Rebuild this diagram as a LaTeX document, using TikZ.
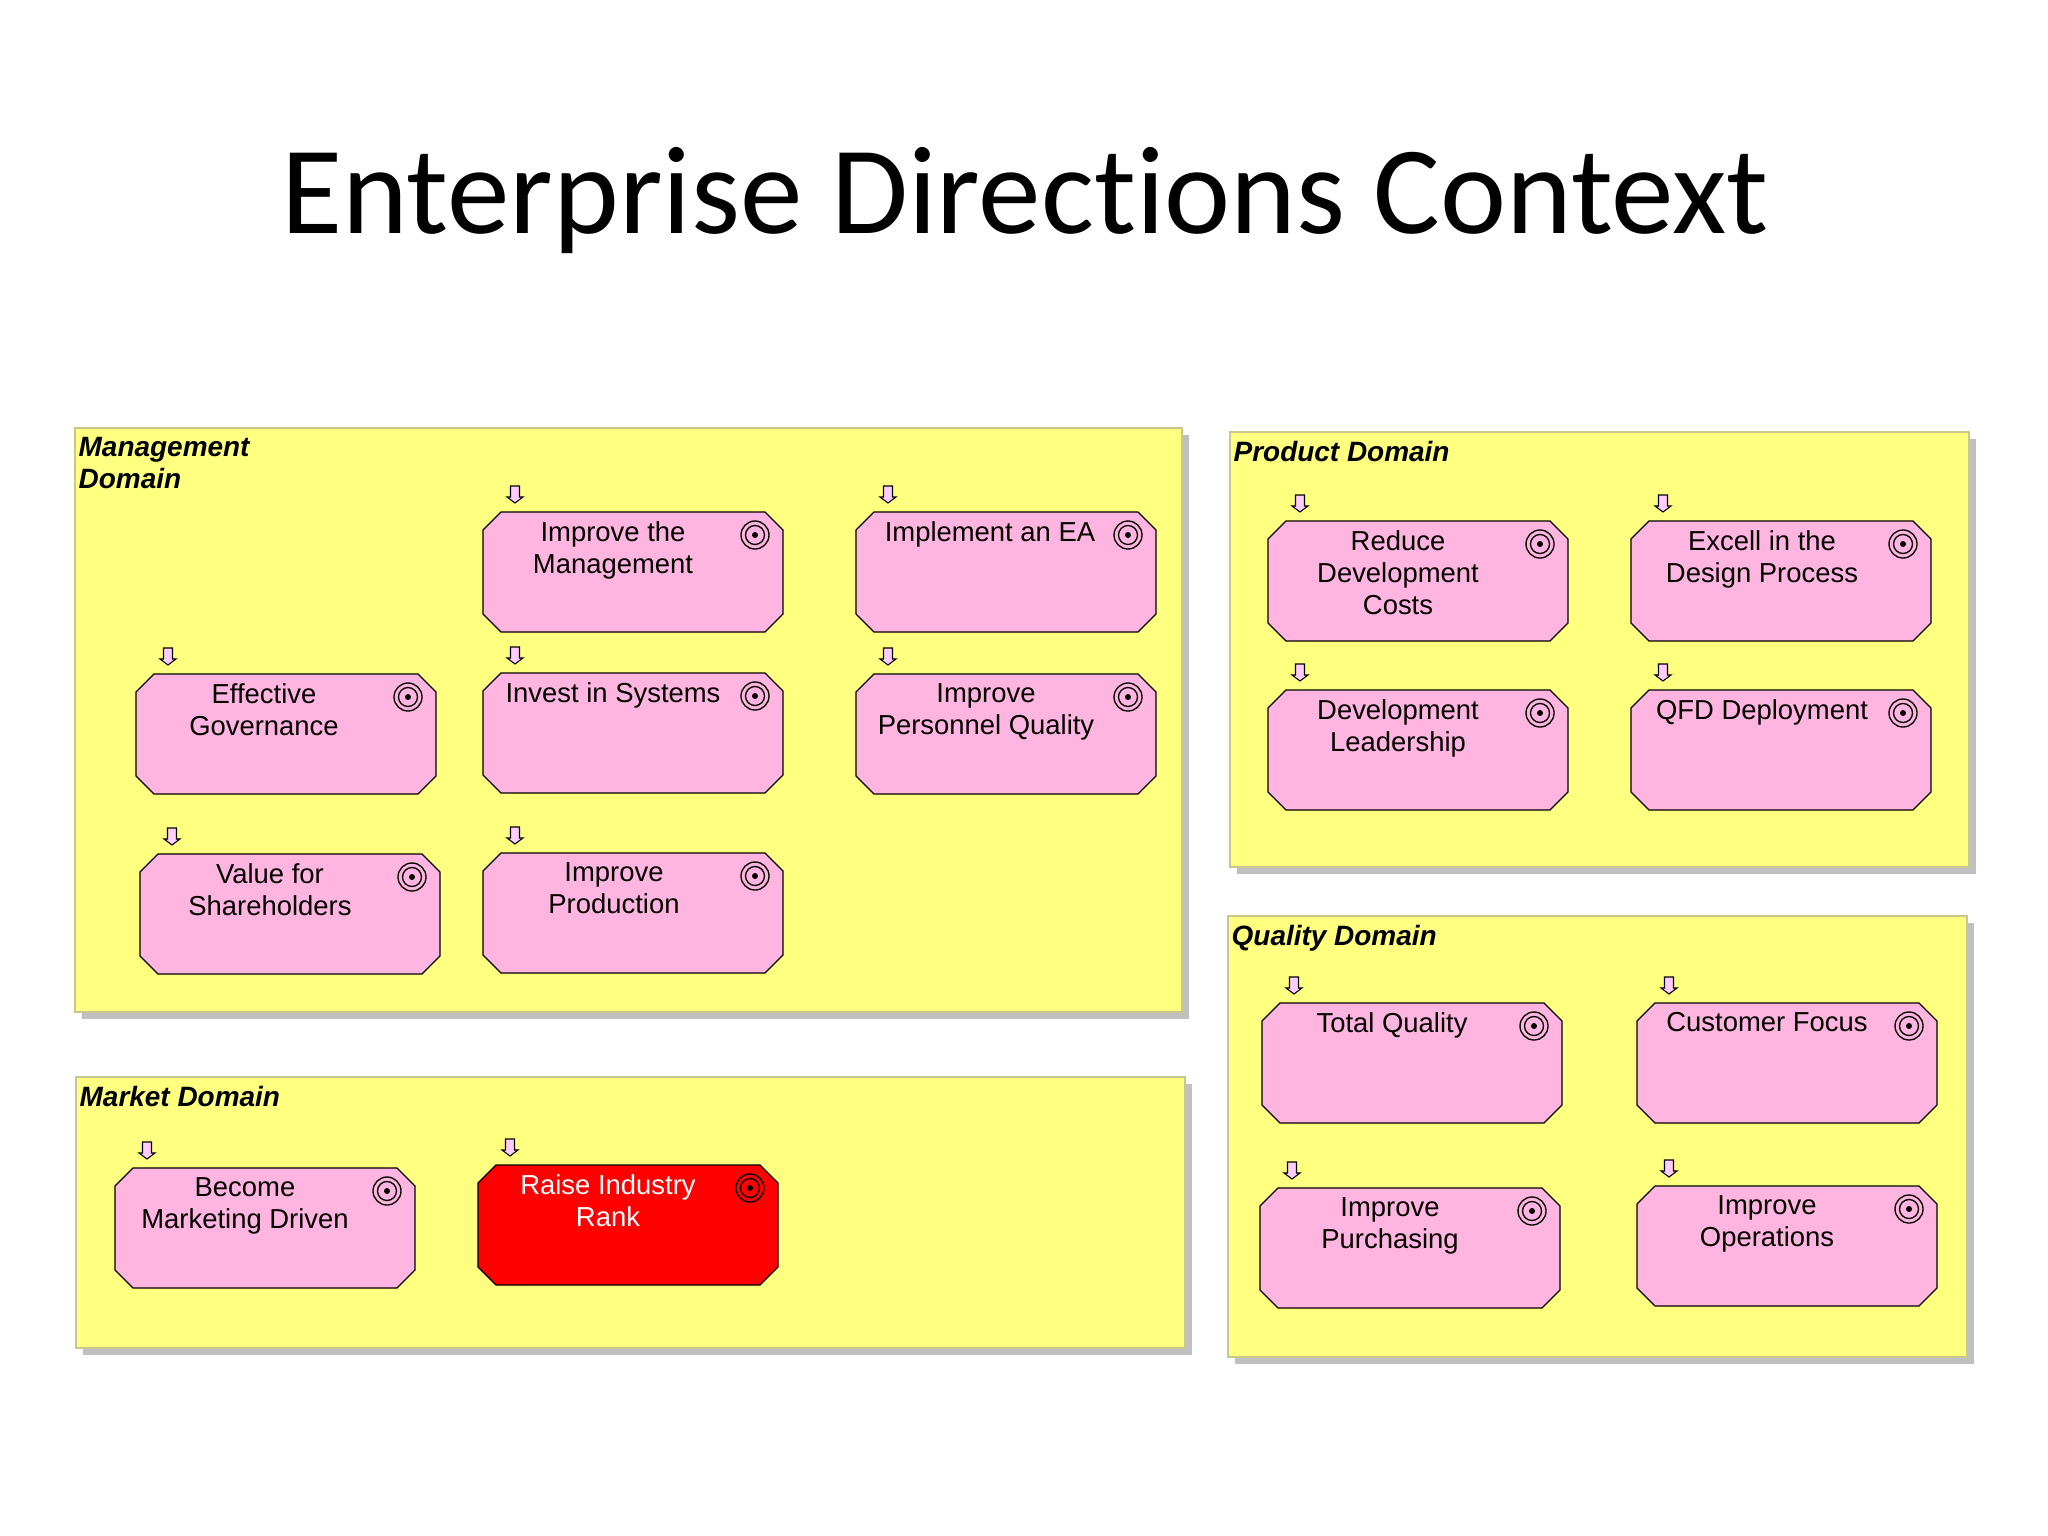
\documentclass[tikz,border=0pt]{standalone}
\usepackage{fontspec}
\setmainfont{Liberation Sans}
\newfontfamily\titlefont[Ligatures=NoCommon]{Carlito}
\definecolor{domainyellow}{HTML}{FFFF80}
\definecolor{domainedge}{HTML}{C8C88C}
\definecolor{domainshadow}{HTML}{C0C0C0}
\definecolor{goalpink}{HTML}{FFB5DF}
\definecolor{tippink}{HTML}{FFCCFF}
\begin{document}
\begin{tikzpicture}[x=0.01cm,y=-0.01cm,line width=0.38pt,
goalbox/.pic={
\draw[pic actions] (18,0) -- (282,0) -- (300,18) -- (300,102) -- (282,120) -- (18,120) -- (0,102) -- (0,18) -- cycle;
\draw[fill=none] (272,23) circle (0.14cm) circle (0.095cm);
\fill[black] (272,23) circle (0.03cm);
\draw[tipmark] (27.5,-26) -- ++(9,0) -- ++(0,11) -- ++(3.5,0) -- (32,-9) -- (24,-15) -- ++(3.5,0) -- cycle;
},
goaltext/.style={anchor=north,align=center,inner sep=0pt,font=\fontsize{7.8}{9.1}\selectfont},
domainbox/.style={fill=domainyellow,draw=domainedge},
domaintext/.style={anchor=north west,align=left,inner sep=0pt,font=\fontsize{7.95}{9.1}\selectfont\bfseries\itshape},
tipmark/.style={draw,fill=tippink,line width=0.3pt}]
\useasboundingbox (0,0) rectangle (2048,1536);
\node[anchor=base,font=\fontsize{35.6}{40}\titlefont] (title) at (1025,233) {Enterprise Directions Context};
% domains
\foreach \nm/\xa/\ya/\xb/\yb/\txt in {mgmt/75/428/1182/1012/{Management\\Domain},market/76/1077/1185/1348/{Market Domain},product/1230/432/1969/867/{Product Domain},quality/1228/916/1967/1357/{Quality Domain}}{
\fill[domainshadow] (\xa+7,\ya+7) rectangle (\xb+7,\yb+7);
\draw[domainbox] (\xa,\ya) rectangle (\xb,\yb);
\node[domaintext] (\nm) at (\xa+3,\ya+9) {\txt};
};
% goals
\foreach \nm/\x/\y/\dx/\txt in {
manage/483/512/0/{Improve the\\Management},
ea/856/512/4/{Implement an EA},
govern/136/674/-2/{Effective\\Governance},
invest/483/673/0/{Invest in Systems},
personnel/856/674/0/{Improve\\Personnel Quality},
share/140/854/0/{Value for\\Shareholders},
produce/483/853/1/{Improve\\Production},
marketing/115/1168/0/{Become\\Marketing Driven},
reduce/1268/521/0/{Reduce\\Development\\Costs},
excell/1631/521/1/{Excell in the\\Design Process},
leader/1268/690/0/{Development\\Leadership},
qfd/1631/690/1/{QFD Deployment},
total/1262/1003/0/{Total Quality},
customer/1637/1003/0/{Customer Focus},
purchase/1260/1188/0/{Improve\\Purchasing},
operate/1637/1186/0/{Improve\\Operations}}{
\pic[fill=goalpink] (\nm) at (\x,\y) {goalbox};
\node[goaltext] (\nm text) at (\x+130+\dx,\y+9) {\txt};
};
% the one red goal
\pic[fill=red] (raise) at (478,1165) {goalbox};
\node[goaltext,text=white] (raise text) at (608,1174) {Raise Industry\\Rank};
\end{tikzpicture}
\end{document}
